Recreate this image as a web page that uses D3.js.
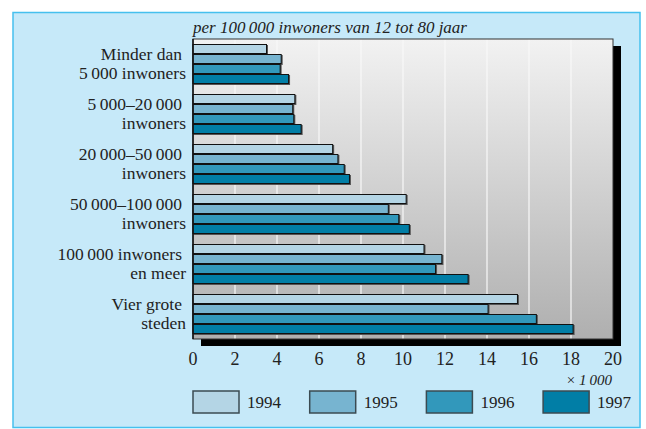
<!DOCTYPE html>
<html>
<head>
<meta charset="utf-8">
<script src="https://cdn.jsdelivr.net/npm/d3@7"></script>
<style>
  body { margin: 0; background: #fff; }
</style>
</head>
<body>
<div id="chart"></div>
<script>
// categories, two lines each
var categories = [
  ["Minder dan", "5\u2009000 inwoners"],
  ["5\u2009000\u201320\u2009000", "inwoners"],
  ["20\u2009000\u201350\u2009000", "inwoners"],
  ["50\u2009000\u2013100\u2009000", "inwoners"],
  ["100\u2009000 inwoners", "en meer"],
  ["Vier grote", "steden"]
]
var years = ["1994", "1995", "1996", "1997"]
// values x 1000 per 100 000 inwoners
var values1994 = [3.5, 4.85, 6.65, 10.15, 11.0, 15.45]
var values1995 = [4.2, 4.75, 6.9, 9.3, 11.85, 14.05]
var values1996 = [4.15, 4.8, 7.2, 9.8, 11.55, 16.35]
var values1997 = [4.55, 5.15, 7.45, 10.3, 13.1, 18.1]
var xTicks = [0, 2, 4, 6, 8, 10, 12, 14, 16, 18, 20]
var colors = ["#b4d5e5", "#77b4d0", "#3298bb", "#017ea6"]

var series = [values1994, values1995, values1996, values1997]

function draw() {
  var width = 646, height = 429
  var serif = "'Liberation Serif', Tinos, 'Times New Roman', 'DejaVu Serif', serif"

  var svg = d3.select("#chart").append("svg")
    .attr("width", width)
    .attr("height", height)
    .style("display", "block")
    .attr("font-family", serif)

  var defs = svg.append("defs")
  var grad = defs.append("linearGradient")
    .attr("id", "bg")
    .attr("x1", 0).attr("y1", 0).attr("x2", 0).attr("y2", 1)
  grad.append("stop").attr("offset", "0%").attr("stop-color", "#f2f2f2")
  grad.append("stop").attr("offset", "100%").attr("stop-color", "#afafaf")

  // outer panel
  svg.append("rect")
    .attr("x", 13).attr("y", 12.5)
    .attr("width", 627).attr("height", 415)
    .attr("fill", "#c6e9f9")
    .attr("stroke", "#45c0ee")
    .attr("stroke-width", 1.5)

  var x = d3.scaleLinear().domain([0, 20]).range([193, 613])
  var y = d3.scaleBand()
    .domain(d3.range(categories.length))
    .range([39, 339])
    .paddingInner(0.2)
    .paddingOuter(0.1)
  var ySub = d3.scaleBand().domain(d3.range(years.length)).range([0, y.bandwidth()])

  var y0 = y.range()[0], y1 = y.range()[1]

  // drop shadow of the plot
  svg.append("rect")
    .attr("x", x(0) + 8).attr("y", y0 + 7)
    .attr("width", x(20) - x(0)).attr("height", y1 - y0)
    .attr("fill", "#000")

  svg.append("rect")
    .attr("x", x(0)).attr("y", y0)
    .attr("width", x(20) - x(0)).attr("height", y1 - y0)
    .attr("fill", "url(#bg)")

  // grid
  svg.append("g")
    .selectAll("line")
    .data(xTicks.slice(1, -1))
    .join("line")
      .attr("x1", d => x(d)).attr("x2", d => x(d))
      .attr("y1", y0).attr("y2", y1)
      .attr("stroke", "#f8f8f8")
      .attr("stroke-width", 1.2)

  svg.append("rect")
    .attr("x", x(0)).attr("y", y0)
    .attr("width", x(20) - x(0)).attr("height", y1 - y0)
    .attr("fill", "none")
    .attr("stroke", "#333")
    .attr("stroke-width", 1)

  // bars
  var groups = svg.append("g")
    .selectAll("g")
    .data(categories.map((c, i) => i))
    .join("g")
      .attr("transform", d => "translate(0," + y(d) + ")")

  groups.selectAll("rect.shadow")
    .data(i => series.map((s, k) => ({ k: k, v: s[i] })))
    .join("rect")
      .attr("class", "shadow")
      .attr("x", x(0))
      .attr("y", d => ySub(d.k) + 1)
      .attr("width", d => x(d.v) - x(0) + 1.5)
      .attr("height", ySub.bandwidth())
      .attr("fill", "#555")

  groups.selectAll("rect.bar")
    .data(i => series.map((s, k) => ({ k: k, v: s[i] })))
    .join("rect")
      .attr("class", "bar")
      .attr("x", x(0))
      .attr("y", d => ySub(d.k) + 0.5)
      .attr("width", d => x(d.v) - x(0))
      .attr("height", ySub.bandwidth() - 1)
      .attr("fill", d => colors[d.k])
      .attr("stroke", "#111")
      .attr("stroke-width", 1)

  // left axis line
  svg.append("line")
    .attr("x1", x(0)).attr("x2", x(0))
    .attr("y1", y0).attr("y2", y1)
    .attr("stroke", "#111")
    .attr("stroke-width", 1.5)

  // category labels
  var labels = svg.append("g")
    .selectAll("text")
    .data(categories)
    .join("text")
      .attr("text-anchor", "end")
      .attr("font-size", 17.5)
      .attr("fill", "#222")
  labels.append("tspan")
    .attr("x", 182)
    .attr("y", (d, i) => y(i) + y.bandwidth() / 2 - 4.5)
    .text(d => d[0])
  labels.append("tspan")
    .attr("x", 186)
    .attr("y", (d, i) => y(i) + y.bandwidth() / 2 + 15)
    .text(d => d[1])

  // x tick labels
  svg.append("g")
    .selectAll("text")
    .data(xTicks)
    .join("text")
      .attr("x", d => x(d))
      .attr("y", 365)
      .attr("text-anchor", "middle")
      .attr("font-size", 18)
      .attr("fill", "#222")
      .text(d => d)

  svg.append("text")
    .attr("x", 612)
    .attr("y", 385)
    .attr("text-anchor", "end")
    .attr("font-size", 15)
    .attr("font-style", "italic")
    .attr("fill", "#222")
    .text("\u00d7\u20091\u2009000")

  // subtitle
  svg.append("text")
    .attr("x", 193)
    .attr("y", 33)
    .attr("font-size", 17)
    .attr("font-style", "italic")
    .attr("fill", "#222")
    .text("per 100\u2009000 inwoners van 12 tot 80 jaar")

  // legend
  var legend = svg.append("g")
    .selectAll("g")
    .data(years)
    .join("g")
      .attr("transform", (d, i) => "translate(" + (193 + i * 116.7) + ",391)")
  legend.append("rect")
    .attr("width", 46).attr("height", 22)
    .attr("fill", (d, i) => colors[i])
    .attr("stroke", "#3b4b52")
    .attr("stroke-width", 1.5)
  legend.append("text")
    .attr("x", 54)
    .attr("y", 17)
    .attr("font-size", 17)
    .attr("fill", "#222")
    .text(d => d)
}

draw()
</script>
</body>
</html>
